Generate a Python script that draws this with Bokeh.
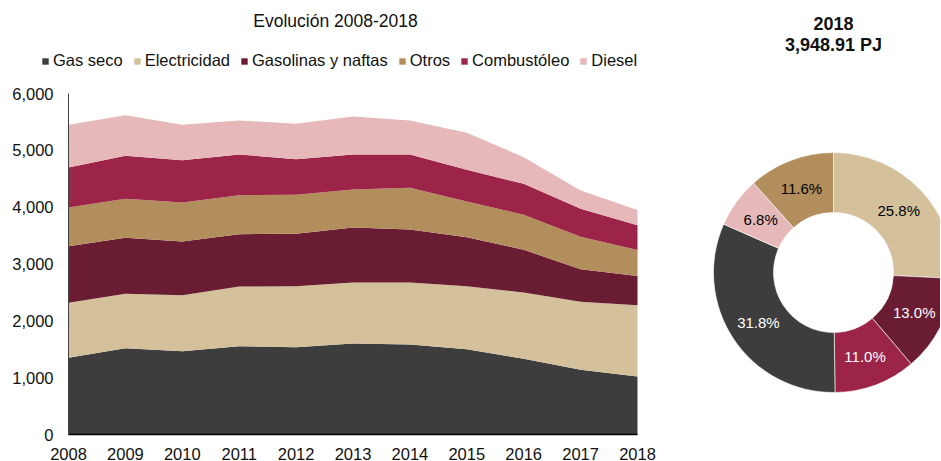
import numpy as np
from bokeh.plotting import figure
from bokeh.models import (ColumnDataSource, Legend, LegendItem, Range1d, NumeralTickFormatter,
                          FixedTicker)
from bokeh.embed import file_html
from bokeh.resources import INLINE
from bokeh.core.properties import value

# ---------------- data ----------------
years = [2008, 2009, 2010, 2011, 2012, 2013, 2014, 2015, 2016, 2017, 2018]
gas_seco = [1350, 1519, 1466, 1554, 1536, 1601, 1584, 1501, 1332, 1138, 1019]
electricidad = [967, 957, 986, 1050, 1074, 1074, 1091, 1109, 1167, 1197, 1256]
gasolinas = [997, 985, 944, 921, 921, 967, 932, 862, 751, 574, 513]
otros = [680, 686, 686, 686, 687, 669, 734, 628, 616, 570, 458]
combustoleo = [704, 757, 745, 716, 626, 616, 586, 557, 545, 492, 434]
diesel = [751, 715, 622, 598, 623, 669, 598, 651, 469, 322, 269]

series_names = ["Gas seco", "Electricidad", "Gasolinas y naftas", "Otros", "Combustóleo", "Diesel"]
series_keys = ["gas", "elec", "gasol", "otros", "comb", "diesel"]
series_colors = ["#3d3d3d", "#d4c19c", "#691c32", "#b38e5d", "#9d2449", "#e6b8b9"]
y_ticks = [0, 1000, 2000, 3000, 4000, 5000, 6000]
chart_title = "Evolución 2008-2018"

pie_title_year = "2018"
pie_total = 3948.91
pie_labels = ["Electricidad", "Gasolinas y naftas", "Combustóleo", "Gas seco", "Diesel", "Otros"]
pie_shares = [25.8, 13.0, 11.0, 31.8, 6.8, 11.6]
pie_colors = ["#d4c19c", "#691c32", "#9d2449", "#3d3d3d", "#e6b8b9", "#b38e5d"]
pie_text_colors = ["#000000", "#ffffff", "#ffffff", "#ffffff", "#000000", "#000000"]

FONT = "Liberation Sans"

# ---------------- layout geometry (pixels, from top-left) ----------------
W, H = 940, 461
X_FIRST, X_LAST = 68, 637      # pixel x of first / last year
Y_ZERO, Y_TOP = 434, 93        # pixel y of the lowest / highest tick

px_per_year = (X_LAST - X_FIRST) / (years[-1] - years[0])
upp = (y_ticks[-1] - y_ticks[0]) / (Y_ZERO - Y_TOP)   # y units per pixel
x_start = years[0] - X_FIRST / px_per_year
x_end = years[0] + (W - X_FIRST) / px_per_year
y_start = -(H - Y_ZERO) * upp
y_end = Y_ZERO * upp

src = ColumnDataSource(dict(x=years, gas=gas_seco, elec=electricidad, gasol=gasolinas,
                            otros=otros, comb=combustoleo, diesel=diesel))

p = figure(width=W, height=H, x_range=Range1d(x_start, x_end), y_range=Range1d(y_start, y_end),
           output_backend="svg", toolbar_location=None, title_location=None,
           min_border_left=0, min_border_right=0, min_border_top=0, min_border_bottom=0)
p.xgrid.grid_line_color = None
p.ygrid.grid_line_color = None
p.outline_line_color = None

renderers = p.varea_stack(series_keys, x="x", color=series_colors, source=src)

# axes (fixed at the chart's origin)
p.xaxis.ticker = FixedTicker(ticks=years)
p.yaxis.ticker = FixedTicker(ticks=y_ticks)
p.xaxis.bounds = (years[0], years[-1])
p.yaxis.bounds = (y_ticks[0], y_ticks[-1])
p.xaxis.fixed_location = y_ticks[0]
p.yaxis.fixed_location = years[0]
p.yaxis.formatter = NumeralTickFormatter(format="0,0")
for ax in (p.xaxis[0], p.yaxis[0]):
    ax.major_tick_line_color = None
    ax.minor_tick_line_color = None
    ax.major_label_text_font = FONT
    ax.major_label_text_font_size = "16.5px"
    ax.major_label_text_color = "#111111"
p.xaxis.axis_line_color = "#000000"
p.xaxis.axis_line_width = 1.5
p.yaxis.axis_line_color = "#404040"
p.xaxis.major_label_standoff = 7
p.yaxis.major_label_standoff = 9


def fx(px):  # pixel x -> x data
    return years[0] + (px - X_FIRST) / px_per_year


def fy(py):  # pixel y from top -> y data
    return (Y_ZERO - py) * upp


# title
p.text(x=[fx(335)], y=[fy(20)], text=[chart_title], text_align="center",
       text_baseline="middle", text_font=value(FONT), text_font_size="17.5px",
       text_color="#111111")

# legend
items = [LegendItem(label=n, renderers=[r]) for n, r in zip(series_names, renderers)]
legend = Legend(items=items, orientation="horizontal", location=(41, H - 70),
                label_text_font=FONT, label_text_font_size="16.5px", label_text_color="#111111",
                glyph_width=8, glyph_height=8, label_standoff=4, spacing=10,
                padding=4, margin=0, border_line_color=None, background_fill_alpha=0)
p.add_layout(legend, "center")

# ---------------- donut (pixel-unit extra ranges, y measured from the top) ----------------
p.extra_x_ranges = {"px": Range1d(0, W)}
p.extra_y_ranges = {"py": Range1d(H, 0)}
CX, CY = 833, 272

shares = np.array(pie_shares) / 100.0
cum = np.cumsum(shares)
start = np.pi / 2 - 2 * np.pi * np.concatenate([[0], cum[:-1]])
end = np.pi / 2 - 2 * np.pi * cum
mid = (start + end) / 2
r_in, r_out = 60, 120
r_lab = (r_in + r_out) / 2
pie_src = ColumnDataSource(dict(
    name=pie_labels, share=pie_shares, value=list(shares * pie_total),
    start=list(start), end=list(end), color=pie_colors,
    lx=list(CX + r_lab * np.cos(mid)), ly=list(CY - r_lab * np.sin(mid)),
    txt=[f"{s:.1f}%" for s in pie_shares], tcolor=pie_text_colors))

p.annular_wedge(x=CX, y=CY, inner_radius=r_in, outer_radius=r_out, start_angle="start",
                end_angle="end", direction="clock", fill_color="color",
                line_color="white", line_width=0.6, source=pie_src,
                x_range_name="px", y_range_name="py")
p.text(x="lx", y="ly", text="txt", text_color="tcolor", text_align="center",
       text_baseline="middle", text_font=value(FONT), text_font_size="15px", source=pie_src,
       x_range_name="px", y_range_name="py")
p.text(x=[CX, CX], y=[22.5, 44.7],
       text=[pie_title_year, f"{pie_total:,.2f} PJ"],
       text_align="center", text_baseline="middle", text_font=value(FONT),
       text_font_size="18px", text_font_style="bold", text_color="#111111",
       x_range_name="px", y_range_name="py")

open("out.html", "w").write(file_html(p, INLINE))
